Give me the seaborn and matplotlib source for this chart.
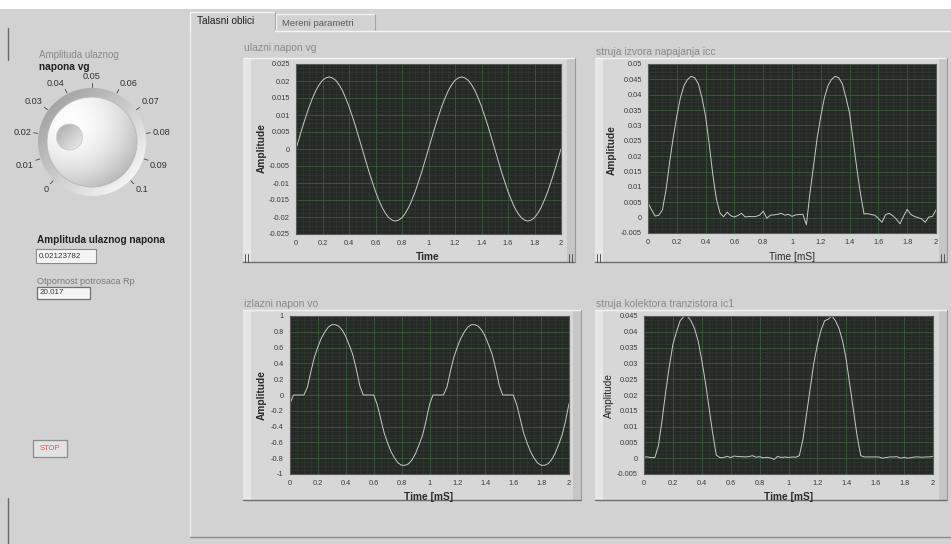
import numpy as np
import matplotlib
matplotlib.use("Agg")
import matplotlib.pyplot as plt
import seaborn as sns
from matplotlib.patches import Rectangle, Circle
from matplotlib.ticker import MultipleLocator, AutoMinorLocator, FuncFormatter

# LabVIEW front panel look
sns.set_style("white")
plt.rcParams['font.family'] = ['Liberation Sans', 'DejaVu Sans']

W, H = 951, 544
PANEL = '#d2d2d2'
PLOT_BG = '#262a27'
TRACE = '#c8c8c8'

# ---- data ----
time = np.linspace(0, 2, 81)   # 0.025 ms sampling

# input voltage vg
vg = [0, 0.0033, 0.0066, 0.0096, 0.0125, 0.0150, 0.0172, 0.0189, 0.0202, 0.0209, 0.0212,
      0.0209, 0.0202, 0.0189, 0.0172, 0.0150, 0.0125, 0.0096, 0.0066, 0.0033, 0,
      -0.0033, -0.0066, -0.0096, -0.0125, -0.0150, -0.0172, -0.0189, -0.0202, -0.0209, -0.0212,
      -0.0209, -0.0202, -0.0189, -0.0172, -0.0150, -0.0125, -0.0096, -0.0066, -0.0033,
      0, 0.0033, 0.0066, 0.0096, 0.0125, 0.0150, 0.0172, 0.0189, 0.0202, 0.0209, 0.0212,
      0.0209, 0.0202, 0.0189, 0.0172, 0.0150, 0.0125, 0.0096, 0.0066, 0.0033, 0,
      -0.0033, -0.0066, -0.0096, -0.0125, -0.0150, -0.0172, -0.0189, -0.0202, -0.0209, -0.0212,
      -0.0209, -0.0202, -0.0189, -0.0172, -0.0150, -0.0125, -0.0096, -0.0066, -0.0033, 0]

# supply current icc
icc = [0.0049, 0.0025, 0.0005, 0.0008, 0.0025, 0.009, 0.018, 0.026, 0.033, 0.039, 0.043,
       0.045, 0.046, 0.0455, 0.0435, 0.039, 0.033, 0.024, 0.014, 0.006, 0.0015,
       0.0003, 0.0018, 0.0006, 0.0002, 0.0007, 0.0014, 0.0002, 0.0004, 0.0003, 0.0004,
       0.0008, 0.0021, -0.0002, 0.0008, 0.0009, 0.0011, 0.0014, 0.0008, 0.0011, 0.0004,
       0.0009, 0.0010, 0.0011, -0.0023, 0.008, 0.017, 0.026, 0.033, 0.039, 0.043,
       0.045, 0.046, 0.0455, 0.0435, 0.039, 0.034, 0.025, 0.016, 0.008, 0.0012,
       0.0013, 0.0010, 0.0008, -0.0003, -0.0015, 0.0010, 0.0014, 0.0006, -0.0005, -0.0020,
       0.0005, 0.0027, 0.0010, 0.0004, 0.0, -0.0004, -0.0015, 0.0002, 0.0004, 0.0025]

# output voltage vo
vo = [-0.11, 0.0, 0.0, 0.0, 0.0, 0.10, 0.30, 0.48, 0.61, 0.72, 0.80,
      0.86, 0.89, 0.89, 0.87, 0.82, 0.74, 0.63, 0.51, 0.33, 0.12,
      0.0, 0.0, 0.0, 0.0, -0.12, -0.30, -0.48, -0.61, -0.72, -0.80,
      -0.86, -0.89, -0.89, -0.87, -0.82, -0.74, -0.63, -0.51, -0.33,
      -0.12, 0.0, 0.0, 0.0, 0.0, 0.10, 0.30, 0.48, 0.61, 0.72, 0.80,
      0.86, 0.89, 0.89, 0.87, 0.82, 0.74, 0.63, 0.51, 0.33, 0.12,
      0.0, 0.0, 0.0, 0.0, -0.12, -0.30, -0.48, -0.61, -0.72, -0.80,
      -0.86, -0.89, -0.89, -0.87, -0.82, -0.74, -0.63, -0.51, -0.33, -0.11]

# collector current ic1
ic1 = [0.0004, 0.0004, 0.0002, 0.0002, 0.004, 0.012, 0.021, 0.029, 0.036, 0.040, 0.0435,
       0.0448, 0.045, 0.0435, 0.041, 0.037, 0.031, 0.024, 0.016, 0.008, 0.001,
       0.0002, 0.0002, 0.0006, 0.0002, 0.0007, 0.0005, 0.0005, 0.0004, 0.0005, 0.0008,
       0.0003, 0.0005, 0.0001, 0.0003, 0.0001, -0.0004, 0.0006, 0.0002, 0.0004, 0.0002,
       0.0004, 0.0003, 0.0008, 0.006, 0.014, 0.022, 0.030, 0.036, 0.0405, 0.0435,
       0.044, 0.045, 0.0435, 0.041, 0.037, 0.031, 0.023, 0.015, 0.007, 0.0008,
       0.0004, 0.0004, 0.0004, 0.0004, 0.0004, 0.0, 0.0002, 0.0004, 0.0004, 0.0005,
       0.0, 0.0003, 0.0, 0.0002, 0.0004, 0.0004, 0.0003, 0.0004, 0.0004, 0.0006]

dial_values = [0, 0.01, 0.02, 0.03, 0.04, 0.05, 0.06, 0.07, 0.08, 0.09, 0.1]
dial_labels = ['0', '0.01', '0.02', '0.03', '0.04', '0.05', '0.06', '0.07', '0.08', '0.09', '0.1']
knob_value = 0.02123782
rp_value = '20.017'


def px_axes(fig, l, t, r, b):
    return fig.add_axes([l / W, 1 - b / H, (r - l) / W, (b - t) / H])


def tick_fmt(v, pos):
    v = round(v, 6)
    if v == 0:
        return '0'
    return f'{v:g}'


def draw_frame(bg, l, t, r, b, title, ty, markers=False):
    bg.add_patch(Rectangle((l, t), r - l, b - t, facecolor='#d7d7d7', edgecolor='none', zorder=1))
    bg.add_patch(Rectangle((l, t), 8, b - t, facecolor='#e6e6e6', edgecolor='none', zorder=1))
    bg.add_patch(Rectangle((r - 8, t), 8, b - t, facecolor='#c6c6c6', edgecolor='none', zorder=1))
    bg.plot([l, r], [t, t], color='#f2f2f2', lw=1, zorder=2)
    bg.plot([l, r], [b, b], color='#6e6e6e', lw=1, zorder=2)
    bg.plot([r, r], [t, b], color='#9a9a9a', lw=0.8, zorder=2)
    if markers:
        for x0 in (l + 2, l + 4.5, r - 6, r - 3.5):
            bg.plot([x0, x0], [b - 8, b], color='#555555', lw=0.7, zorder=3)
    bg.text(l + 1, ty, title, fontsize=7.5, color='#8a8a8a', ha='left', va='center')


def draw_graph(fig, box, y, ylim, ystep, xlab, ylab, xpos, ypos, xbold=True, ybold=True):
    l, t, r, b = box
    ax = px_axes(fig, l, t, r, b)
    ax.set_facecolor(PLOT_BG)
    sns.lineplot(x=time, y=y, ax=ax, color=TRACE, linewidth=0.7)
    ax.set_xlim(0, 2)
    ax.set_ylim(*ylim)
    ax.xaxis.set_major_locator(MultipleLocator(0.2))
    ax.yaxis.set_major_locator(MultipleLocator(ystep))
    ax.xaxis.set_minor_locator(AutoMinorLocator(4))
    ax.yaxis.set_minor_locator(AutoMinorLocator(4))
    ax.xaxis.set_major_formatter(FuncFormatter(tick_fmt))
    ax.yaxis.set_major_formatter(FuncFormatter(tick_fmt))
    ax.set_axisbelow(True)
    ax.grid(True, which='major', color='#3d5a3e', lw=0.6)
    ax.grid(True, which='minor', color='#323b33', lw=0.4)
    ax.tick_params(which='major', direction='out', length=3, width=0.6, color='#707070',
                   labelsize=5.3, labelcolor='#3a3a3a', pad=1.5)
    ax.tick_params(which='minor', length=0)
    for s in ax.spines.values():
        s.set_color('#5a5a5a')
        s.set_linewidth(0.8)
    ax.set_xlabel(xlab, fontsize=7.3, color='#2a2a2a', fontweight='bold' if xbold else 'normal')
    ax.set_ylabel(ylab, fontsize=7.3, color='#2a2a2a', fontweight='bold' if ybold else 'normal')
    ax.xaxis.set_label_coords((xpos[0] - l) / (r - l), (b - xpos[1]) / (b - t))
    ax.yaxis.set_label_coords((ypos[0] - l) / (r - l), (b - ypos[1]) / (b - t))
    ax.xaxis.label.set_va('center')
    ax.yaxis.label.set_va('center')
    return ax


def gradient_disc(bg, cx, cy, r, func, zorder):
    n = 160
    u, v = np.meshgrid(np.linspace(-1, 1, n), np.linspace(-1, 1, n))
    img = np.clip(func(u, v), 0, 1)
    clip = Circle((cx, cy), r, facecolor='none', edgecolor='none')
    bg.add_patch(clip)
    im = bg.imshow(img, cmap='gray', vmin=0, vmax=1, extent=(cx - r, cx + r, cy + r, cy - r),
                   origin='upper', aspect='auto', interpolation='bilinear', zorder=zorder)
    im.set_clip_path(clip)


def draw_left_panel(bg):
    bg.text(39, 55, 'Amplituda ulaznog', fontsize=7, color='#8a8a8a', ha='left', va='center')
    bg.text(39, 67, 'napona vg', fontsize=7.3, color='#222222', fontweight='bold', ha='left', va='center')

    cx, cy = 92, 142
    # ring and sphere of the knob
    gradient_disc(bg, cx, cy, 54, lambda u, v: 0.80 + 0.11 * (u + v), 3)
    gradient_disc(bg, cx, cy, 45,
                  lambda u, v: 0.99 - 0.10 * ((u + 0.45) ** 2 + (v + 0.45) ** 2), 4)
    bg.add_patch(Circle((cx, cy), 45, facecolor='none', edgecolor='#b8b8b8', lw=0.6, zorder=5))

    # dial ticks and labels
    for val, lab in zip(dial_values, dial_labels):
        a = np.radians(225 - 2700 * val)
        c, s = np.cos(a), np.sin(a)
        bg.plot([cx + 55 * c, cx + 59 * c], [cy - 55 * s, cy - 59 * s], color='#555555', lw=0.7, zorder=5)
        ha = 'right' if c < -0.3 else ('left' if c > 0.3 else 'center')
        va = 'bottom' if s > 0.3 else ('top' if s < -0.3 else 'center')
        bg.text(cx + 61 * c, cy - 61 * s, lab, fontsize=6.6, color='#333333', ha=ha, va=va, zorder=5)

    # pointer dimple
    a = np.radians(225 - 2700 * knob_value)
    px, py = cx + 23 * np.cos(a), cy - 23 * np.sin(a)
    gradient_disc(bg, px, py, 13, lambda u, v: 0.80 + 0.07 * (u + v), 6)
    bg.add_patch(Circle((px, py), 13, facecolor='none', edgecolor='#c2c2c2', lw=0.5, zorder=7))

    # numeric indicators
    bg.text(37, 240, 'Amplituda ulaznog napona', fontsize=7.2, color='#222222',
            fontweight='bold', ha='left', va='center')
    bg.add_patch(Rectangle((36, 249), 60, 14, facecolor='#f4f4f4', edgecolor='#8a8a8a', lw=0.8, zorder=3))
    bg.text(39, 256, f'{knob_value:.8f}', fontsize=5.8, color='#333333', ha='left', va='center', zorder=4)
    bg.text(37, 281, 'Otpornost potrosaca Rp', fontsize=6.6, color='#7a7a7a', ha='left', va='center')
    bg.add_patch(Rectangle((37, 287), 53, 12, facecolor='#f4f4f4', edgecolor='#707070', lw=0.9, zorder=3))
    bg.text(40, 293, rp_value, fontsize=5.8, color='#333333', ha='left', va='center', zorder=4)

    # stop button
    bg.add_patch(Rectangle((33, 440), 34, 17, facecolor='#e2e2e2', edgecolor='#8c8c8c', lw=0.9, zorder=3))
    bg.text(50, 448.5, 'STOP', fontsize=5.5, color='#ff4a4a', ha='center', va='center', zorder=4)


def draw_tabs(bg):
    bg.add_patch(Rectangle((0, 0), W, 9, facecolor='white', edgecolor='none', zorder=1))
    # tab headers
    bg.add_patch(Rectangle((190, 12), 85, 19, facecolor=PANEL, edgecolor='none', zorder=2))
    bg.plot([190, 190, 275], [31, 12, 12], color='#f4f4f4', lw=1, zorder=3)
    bg.plot([275, 275], [12, 31], color='#9c9c9c', lw=0.8, zorder=3)
    bg.plot([276, 276, 375], [31, 14, 14], color='#f0f0f0', lw=1, zorder=3)
    bg.plot([375, 375], [14, 31], color='#a6a6a6', lw=0.8, zorder=3)
    bg.text(197, 21, 'Talasni oblici', fontsize=7.3, color='#222222', ha='left', va='center', zorder=4)
    bg.text(282, 23, 'Mereni parametri', fontsize=6.8, color='#5a5a5a', ha='left', va='center', zorder=4)
    # tab page borders
    bg.plot([275, W], [31, 31], color='#f4f4f4', lw=1, zorder=3)
    bg.plot([190, 190], [31, 537], color='#ececec', lw=1, zorder=3)
    bg.plot([190, W], [537, 537], color='#8c8c8c', lw=1, zorder=3)
    # small dark edges on the far left
    bg.plot([8, 8], [28, 60], color='#6a6a6a', lw=1, zorder=3)
    bg.plot([8, 8], [498, 544], color='#6a6a6a', lw=1, zorder=3)


fig = plt.figure(figsize=(W / 100, H / 100), dpi=100)
fig.patch.set_facecolor(PANEL)
bg = fig.add_axes([0, 0, 1, 1])
bg.set_facecolor(PANEL)
bg.axis('off')

draw_tabs(bg)
draw_left_panel(bg)

draw_frame(bg, 243, 58, 575, 262, 'ulazni napon vg', 48, markers=True)
draw_frame(bg, 595, 58, 947, 262, 'struja izvora napajanja icc', 52, markers=True)
draw_frame(bg, 243, 310, 581, 500, 'izlazni napon vo', 304)
draw_frame(bg, 595, 310, 947, 500, 'struja kolektora tranzistora ic1', 304)

draw_graph(fig, (296, 64, 561, 234), vg, (-0.025, 0.025), 0.005,
           'Time', 'Amplitude', (428, 257), (262, 148))
draw_graph(fig, (648, 64, 936, 233), icc, (-0.005, 0.05), 0.005,
           'Time [mS]', 'Amplitude', (792, 257), (612, 150), xbold=False)
draw_graph(fig, (290, 316, 569, 474), vo, (-1, 1), 0.2,
           'Time [mS]', 'Amplitude', (429, 497), (262, 395))
draw_graph(fig, (644, 316, 933, 474), ic1, (-0.005, 0.045), 0.005,
           'Time [mS]', 'Amplitude', (789, 497), (609, 395), ybold=False)

bg.set_xlim(0, W)
bg.set_ylim(H, 0)

fig.savefig('out.png', dpi=100)
